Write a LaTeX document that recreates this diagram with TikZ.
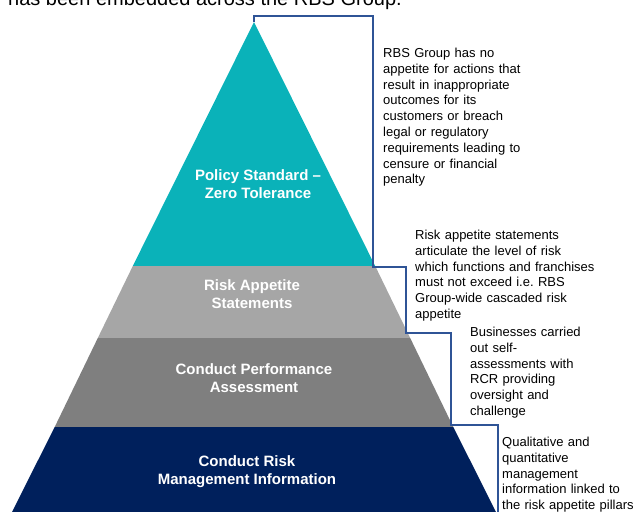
\documentclass[tikz,border=0pt]{standalone}
\usepackage{fontspec}
\setmainfont{Liberation Sans}
\usepackage{tikz}
\frenchspacing
\definecolor{rbsteal}{RGB}{10,178,185}
\definecolor{rbslight}{RGB}{166,166,166}
\definecolor{rbsdark}{RGB}{127,127,127}
\definecolor{rbsnavy}{RGB}{0,32,92}
\definecolor{rbsline}{RGB}{47,84,150}
\tikzstyle{layerlabel}=[text=white,align=center,inner sep=0pt,
                        font=\fontsize{15}{18}\selectfont\bfseries]
\tikzstyle{note}=[anchor=base west,align=left,inner sep=0pt,
                  text width=200pt,font=\fontsize{13}{15.8}\selectfont]
\tikzstyle{stepline}=[draw=rbsline,line width=1.6pt]

\begin{document}
\begin{tikzpicture}[x=1pt,y=-1pt]
    \useasboundingbox (0,0) rectangle (633,512);
    % pyramid corners
    \coordinate (apex) at (254,22);
    \coordinate (t1l) at (132.8,266);
    \coordinate (t1r) at (375.2,266);
    \coordinate (t2l) at (97.8,338);
    \coordinate (t2r) at (410.2,338);
    \coordinate (t3l) at (54.7,427);
    \coordinate (t3r) at (453.3,427);
    \coordinate (bl) at (12,512);
    \coordinate (br) at (496,512);
    % layers
    \fill[rbsteal] (apex) -- (t1r) -- (t1l) -- cycle;
    \fill[rbslight] (t1l) -- (t1r) -- (t2r) -- (t2l) -- cycle;
    \fill[rbsdark] (t2l) -- (t2r) -- (t3r) -- (t3l) -- cycle;
    \fill[rbsnavy] (t3l) -- (t3r) -- (br) -- (bl) -- cycle;

    \node (title) at (8,5) [anchor=base west,inner sep=0pt,
        font=\fontsize{20}{24}\selectfont]
        {has been embedded across the RBS Group.};

    \node (policy) at (258,184) [layerlabel]{Policy Standard --\\Zero Tolerance};
    \node (appetite) at (252,294) [layerlabel]{Risk Appetite\\Statements};
    \node (perform) at (254,378.5) [layerlabel]{Conduct Performance\\Assessment};
    \node (mi) at (247,472) [layerlabel]{Conduct Risk\\Management Information};

    \node (n1) at (383,57.5) [note]{RBS Group has no\\appetite for actions that\\
        result in inappropriate\\outcomes for its\\customers or breach\\
        legal or regulatory\\requirements leading to\\censure or financial\\penalty};
    \node (n2) at (415,239.5) [note]{Risk appetite statements\\
        articulate the level of risk\\which functions and franchises\\
        must not exceed i.e. RBS\\Group-wide cascaded risk\\appetite};
    \node (n3) at (470,336.5) [note]{Businesses carried\\out self-\\
        assessments with\\RCR providing\\oversight and\\challenge};
    \node (n4) at (502,446.5) [note]{Qualitative and\\quantitative\\management\\
        information linked to\\the risk appetite pillars};

    % step line down the right side
    \coordinate (s0) at (254,16);
    \coordinate (s1) at (373,267);
    \coordinate (s2) at (406,333);
    \coordinate (s3) at (451,425);
    \coordinate (s4) at (498,514);
    \draw[stepline] (apex) -- (s0) -| (s1) -| (s2) -| (s3) -| (s4);
  \end{tikzpicture}
\end{document}
